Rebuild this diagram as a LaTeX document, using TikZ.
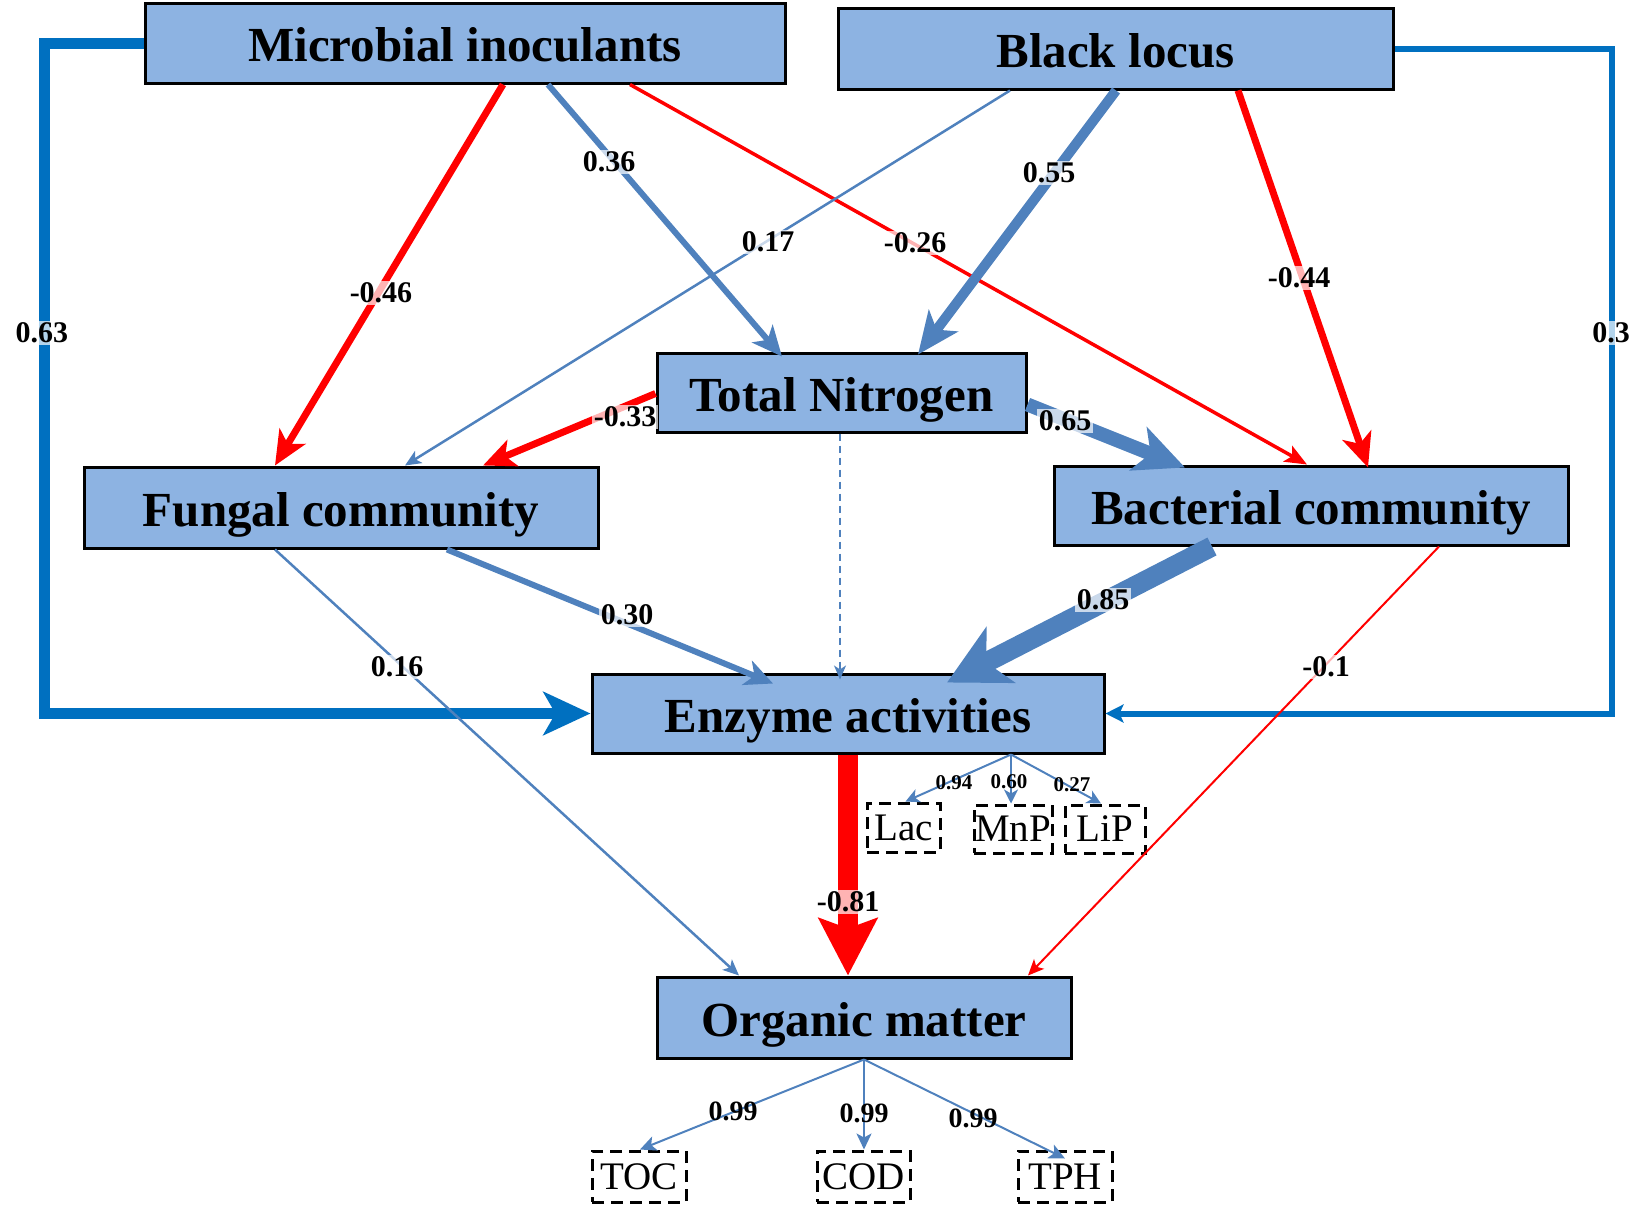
\documentclass[tikz,border=0pt]{standalone}
\usepackage{fontspec}
\setmainfont{Liberation Serif}
\usetikzlibrary{arrows.meta,calc}
\definecolor{boxfill}{HTML}{8DB3E2}
\definecolor{pathblue}{HTML}{4F81BD}
\definecolor{loopblue}{HTML}{0070C0}
\definecolor{pathred}{HTML}{FF0000}
\begin{document}
\begin{tikzpicture}[x=1pt,y=-1pt,
 box/.style={draw=black, line width=3pt, fill=boxfill, inner sep=0pt, text height=37pt, text depth=0pt, font=\fontsize{49}{52}\selectfont\bfseries},
 dbox/.style={draw=black, line width=3pt, dash pattern=on 12pt off 7pt, inner sep=0pt, font=\fontsize{39}{42}\selectfont},
 lab/.style={fill=white, fill opacity=0.7, text opacity=1, inner sep=1.5pt, font=\fontsize{30}{31}\selectfont\bfseries},
 slab/.style={inner sep=0pt, font=\fontsize{21}{22}\selectfont\bfseries},
 mlab/.style={inner sep=0pt, font=\fontsize{28}{29}\selectfont\bfseries},
 conn/.style n args={5}{draw=#1, line width=#2, -{Stealth[length=#3,width=#4,inset=#5]}},
]
\useasboundingbox (0,0) rectangle (1650,1205);

% boxes
\node[box, minimum width=640pt, minimum height=80pt] (mi) at (465,43) {Microbial inoculants};
\node[box, minimum width=555pt, minimum height=81pt] (bl) at (1115.5,48.5) {Black locus};
\node[box, minimum width=369pt, minimum height=79pt] (tn) at (841.5,392.5) {Total Nitrogen};
\node[box, minimum width=514pt, minimum height=81pt] (fc) at (341,507.5) {Fungal community};
\node[box, minimum width=514pt, minimum height=79pt] (bc) at (1311,505.5) {Bacterial community};
\node[box, minimum width=512pt, minimum height=79pt] (en) at (848,713.5) {Enzyme activities};
\node[box, minimum width=414pt, minimum height=81pt] (om) at (864,1017.5) {Organic matter};

\node[dbox, minimum width=73pt, minimum height=49pt] (lac) at (903.5,827.5) {Lac};
\node[dbox, minimum width=78pt, minimum height=48pt] (mnp) at (1013,829) {MnP};
\node[dbox, minimum width=80pt, minimum height=48pt] (lip) at (1105,829) {LiP};
\node[dbox, minimum width=94pt, minimum height=51pt] (toc) at (639,1176.5) {TOC};
\node[dbox, minimum width=93pt, minimum height=51pt] (cod) at (863.5,1176.5) {COD};
\node[dbox, minimum width=94pt, minimum height=51pt] (tph) at (1065,1176.5) {TPH};

% loops
\draw[conn={loopblue}{11pt}{47pt}{43pt}{12pt}, line join=miter] (mi.west) -- ++(-99pt,0) |- (en.west);
\draw[conn={loopblue}{6pt}{18pt}{18pt}{4pt}, line join=miter] (bl.east) -- ++(217pt,0) |- (en.east);

% paths
\draw[conn={pathred}{7pt}{34pt}{30pt}{9pt}] ([xshift=38pt]mi.south) -- ([xshift=-66pt]fc.north);
\draw[conn={pathblue}{6pt}{30pt}{27pt}{8pt}] ([xshift=83pt]mi.south) -- ([xshift=-59.5pt,yshift=-5pt]tn.north);
\draw[conn={pathred}{3.5pt}{22pt}{18pt}{5pt}] ([xshift=165pt]mi.south) -- ([xshift=-4pt]bc.north);
\draw[conn={pathblue}{2.5pt}{16pt}{14pt}{4pt}] ([xshift=-105.5pt]bl.south) -- ([xshift=64pt]fc.north);
\draw[conn={pathblue}{10pt}{42pt}{36pt}{11pt}] ([xshift=0.5pt]bl.south) -- ([xshift=76.5pt,yshift=-3pt]tn.north);
\draw[conn={pathred}{7pt}{34pt}{30pt}{9pt}] ([xshift=122.5pt]bl.south) -- ([xshift=57pt,yshift=-3pt]bc.north);
\draw[conn={pathred}{7pt}{32pt}{28pt}{8pt}] ([yshift=-1pt]tn.west) -- ([xshift=142pt]fc.north);
\draw[conn={pathblue}{14pt}{50pt}{46pt}{13pt}] ([yshift=-12pt]tn.east) -- ([xshift=-126pt,yshift=-3pt]bc.north);
\draw[conn={pathblue}{1.5pt}{14pt}{12pt}{4pt}, dash pattern=on 7pt off 5pt] ([xshift=-1.5pt]tn.south) -- ([xshift=-8pt,yshift=-7pt]en.north);
\draw[conn={pathblue}{6pt}{28pt}{26pt}{8pt}] ([xshift=106pt]fc.south) -- ([xshift=-75pt,yshift=-11pt]en.north);
\draw[conn={pathblue}{2.5pt}{16pt}{14pt}{4pt}] ([xshift=-66pt]fc.south) -- ([xshift=-125pt]om.north);
\draw[conn={pathblue}{20pt}{60pt}{62pt}{16pt}] ([xshift=-99pt]bc.south) -- ([xshift=99pt,yshift=-10pt]en.north);
\draw[conn={pathred}{2pt}{16pt}{14pt}{4pt}] ([xshift=128pt]bc.south) -- ([xshift=164pt]om.north);
\draw[conn={pathred}{20pt}{57pt}{58pt}{10pt}] (en.south) -- (en.south |- om.north);

% indicators
\coordinate (ens) at ([xshift=163pt]en.south);
\draw[conn={pathblue}{2pt}{14pt}{14pt}{4pt}] (ens) -- ([xshift=2pt]lac.north);
\draw[conn={pathblue}{2pt}{14pt}{14pt}{4pt}] (ens) -- (ens |- mnp.north);
\draw[conn={pathblue}{2pt}{14pt}{14pt}{4pt}] (ens) -- ([xshift=-4pt]lip.north);
\draw[conn={pathblue}{2pt}{16pt}{15pt}{4pt}] (om.south) -- ([xshift=1pt]toc.north);
\draw[conn={pathblue}{2pt}{16pt}{15pt}{4pt}] (om.south) -- (om.south |- cod.north);
\draw[conn={pathblue}{2pt}{16pt}{15pt}{4pt}] (om.south) -- ([yshift=-9pt]tph.north);

% labels
\node[lab] (l063) at (42,333) {0.63};
\node[lab] (l03) at (1611,333) {0.3};
\node[lab] (l046) at (381,293) {-0.46};
\node[lab] (l036) at (609,162) {0.36};
\node[lab] (l026) at (915,243) {-0.26};
\node[lab] (l017) at (768,242) {0.17};
\node[lab] (l055) at (1049,173) {0.55};
\node[lab] (l044) at (1299,278) {-0.44};
\node[lab] (l033) at (625,417) {-0.33};
\node[lab] (l065) at (1065,421) {0.65};
\node[lab] (l030) at (627,615) {0.30};
\node[lab] (l016) at (397,667) {0.16};
\node[lab] (l085) at (1103,600) {0.85};
\node[lab] (l01) at (1326,667) {-0.1};
\node[lab] (l081) at (848,902) {-0.81};
\node[slab] (l094) at (954,783) {0.94};
\node[slab] (l060) at (1009,782) {0.60};
\node[slab] (l027) at (1072,785) {0.27};
\node[mlab] (t1) at (733,1111) {0.99};
\node[mlab] (t2) at (864,1113) {0.99};
\node[mlab] (t3) at (973,1118) {0.99};
\end{tikzpicture}
\end{document}
